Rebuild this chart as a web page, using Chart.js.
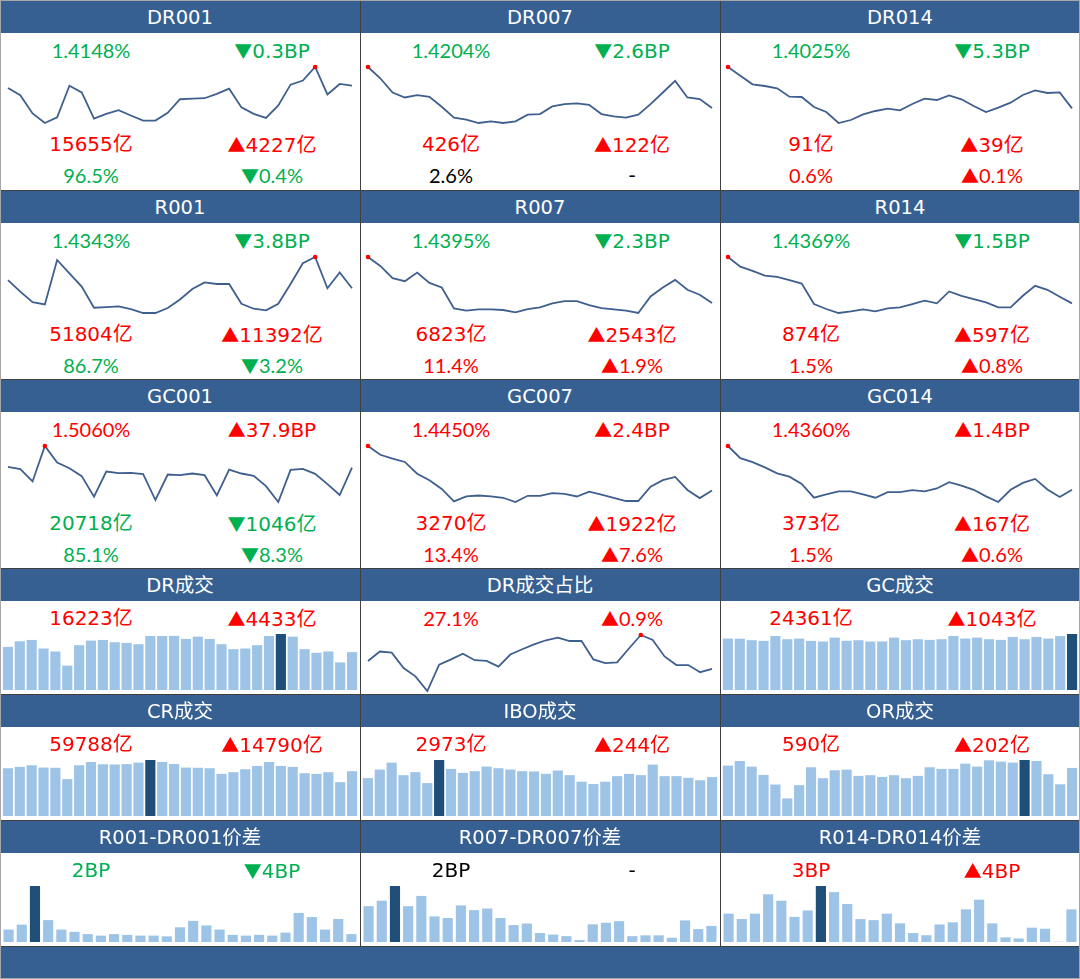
<!DOCTYPE html>
<html>
<head>
<meta charset="utf-8">
<script src="https://cdn.jsdelivr.net/npm/chart.js@4.4.0/dist/chart.umd.min.js"></script>
<style>
body { margin: 0; background: #fff; }
#board { position: relative; width: 1080px; height: 979px; overflow: hidden; background: #fff; }
.panel { position: absolute; width: 360px; }
.head { position: absolute; left: 0; top: 0; width: 360px; height: 33px; line-height: 35px; background: #376092; color: #fff;
        text-align: center; font-size: 19.5px; font-family: "DejaVu Sans", "Noto Sans CJK SC", sans-serif; }
.txt { position: absolute; width: 180px; height: 24px; line-height: 24px; text-align: center; white-space: nowrap; }
.tri { font-family: "Noto Sans CJK SC", sans-serif; font-size: 18px; }
.panel canvas { position: absolute; left: 0; top: 58px; }
.rule { position: absolute; background: #404040; }
#footer { position: absolute; left: 0; top: 946px; width: 1080px; height: 33px; background: #376092; }
#frame { position: absolute; left: 0; top: 0; width: 1080px; height: 979px; box-sizing: border-box; border: 1px solid #a6a6a6; }
</style>
</head>
<body>
<div id="board"><div id="footer"></div></div>
<script>
// 颜色
const G = '#00B050', R = '#FF0000', K = '#000000';
const LINE = '#3F5F8E', BAR = '#9DC3E6', BAR_HI = '#1F4E79';

// 横轴(交易日序号)
const days29 = [1,2,3,4,5,6,7,8,9,10,11,12,13,14,15,16,17,18,19,20,21,22,23,24,25,26,27,28,29];
const days30 = [1,2,3,4,5,6,7,8,9,10,11,12,13,14,15,16,17,18,19,20,21,22,23,24,25,26,27,28,29,30];
const days27 = [1,2,3,4,5,6,7,8,9,10,11,12,13,14,15,16,17,18,19,20,21,22,23,24,25,26,27];

// 利率走势(迷你图无坐标轴，数值为从图上读出的相对高度)
const dr001 = [133,112,58,30,47,140,120,43,57,68,52,37,37,60,100,102,103,116,131,76,57,45,82,143,155,195,114,145,140];
const dr007 = [197,163,120,105,112,107,77,44,38,28,33,28,33,53,55,78,85,87,83,55,48,44,53,85,120,155,105,100,73];
const dr014 = [197,171,145,140,133,108,107,77,62,29,38,55,65,72,67,86,102,98,112,100,80,62,75,90,113,127,119,121,73];
const r001 = [122,87,55,48,183,142,102,38,40,42,34,22,22,37,63,95,115,110,110,50,35,30,50,110,173,192,97,145,97];
const r007 = [192,165,128,119,145,114,100,37,30,34,34,32,25,35,40,52,59,59,47,38,34,30,23,73,100,123,93,78,53];
const r014 = [192,163,150,136,132,122,112,50,35,23,28,34,28,37,40,50,60,52,88,75,65,55,40,40,75,105,93,72,52];
const gc001 = [132,125,88,195,145,128,104,42,118,113,114,110,32,109,107,112,107,46,124,112,105,74,26,123,126,111,80,47,130];
const gc007 = [197,170,158,148,112,92,65,27,42,45,42,38,25,44,44,52,50,42,57,48,38,28,28,72,92,102,62,37,60];
const gc014 = [197,160,148,132,114,104,82,40,50,59,59,50,40,57,57,63,59,68,87,77,64,44,27,64,85,97,65,42,64];

// DR成交占比(%)
const drRatio = [29.2,31.7,31.4,27.3,25.1,21.2,28.2,29.6,31.1,29.4,29.2,27.7,30.9,32.3,33.6,34.7,35.4,34.5,34.5,29.6,28.6,28.8,32.5,36.1,34.8,30.4,28.1,28.1,26.2,27.1];

// 成交量(亿)
const drVol = [18499,20918,21487,17788,16507,10388,19211,21203,21487,20491,20207,19637,23195,23160,23230,21914,22910,21914,19637,17503,17788,19211,23195,24191,22910,17503,15938,16507,11790,16223];
const gcVol = [22230,22185,21518,21233,23370,21945,22230,21233,20948,22658,21260,21518,20948,20990,22658,21518,21945,21660,21945,23370,22230,22658,21945,21660,22943,21945,22943,22230,23318,24361];
const crVol = [63778,65549,67764,64663,64420,49162,67764,72193,69092,68850,69300,71307,75293,72193,69535,64663,64410,63778,56248,58463,62449,66878,72193,66878,65549,57134,56248,58463,44998,59788];
const iboVol = [2896,3556,4089,3124,3353,2515,4318,3607,3302,3429,3785,3658,3556,3429,3410,3226,3480,3124,2616,2438,2616,3048,3226,3124,3937,3048,3050,2921,2729,2973];
const orVol = [619,676,606,504,385,213,377,598,463,561,569,492,500,479,500,463,492,598,578,578,643,606,684,668,656,692,676,512,388,590];

// 价差(BP)
const spread001 = [3.2,4.5,14.8,5.7,3.2,2.6,2.0,1.6,2.0,1.8,1.6,1.6,1.4,3.8,5.5,4.3,3.2,1.8,1.6,1.8,1.6,2.4,7.6,6.5,3.2,6.0,2.0];
const spread007 = [4.5,5.2,7.1,4.5,5.8,3.2,3.0,4.6,4.0,4.2,3.0,2.1,2.3,1.1,0.9,0.7,0.2,2.2,2.4,2.6,0.7,0.8,0.8,0.5,2.7,1.6,2.0];
const spread014 = [2.6,2.1,2.6,4.4,3.8,2.3,2.9,5.2,4.6,3.5,2.1,2.0,2.6,1.7,0.8,0.6,1.6,1.8,3.0,3.9,1.7,0.4,0.3,1.3,1.2,-1.0,3.0];

const panels = [
    {col: 0, row: 0, title: 'DR001', kind: 'line', labels: days29, values: dr001,
     texts: [['1.4148%', G, '▼0.3BP', G], ['15655亿', R, '▲4227亿', R], ['96.5%', G, '▼0.4%', G]]},
    {col: 1, row: 0, title: 'DR007', kind: 'line', labels: days29, values: dr007,
     texts: [['1.4204%', G, '▼2.6BP', G], ['426亿', R, '▲122亿', R], ['2.6%', K, '-', K]]},
    {col: 2, row: 0, title: 'DR014', kind: 'line', labels: days29, values: dr014,
     texts: [['1.4025%', G, '▼5.3BP', G], ['91亿', R, '▲39亿', R], ['0.6%', R, '▲0.1%', R]]},
    {col: 0, row: 1, title: 'R001', kind: 'line', labels: days29, values: r001,
     texts: [['1.4343%', G, '▼3.8BP', G], ['51804亿', R, '▲11392亿', R], ['86.7%', G, '▼3.2%', G]]},
    {col: 1, row: 1, title: 'R007', kind: 'line', labels: days29, values: r007,
     texts: [['1.4395%', G, '▼2.3BP', G], ['6823亿', R, '▲2543亿', R], ['11.4%', R, '▲1.9%', R]]},
    {col: 2, row: 1, title: 'R014', kind: 'line', labels: days29, values: r014,
     texts: [['1.4369%', G, '▼1.5BP', G], ['874亿', R, '▲597亿', R], ['1.5%', R, '▲0.8%', R]]},
    {col: 0, row: 2, title: 'GC001', kind: 'line', labels: days29, values: gc001,
     texts: [['1.5060%', R, '▲37.9BP', R], ['20718亿', G, '▼1046亿', G], ['85.1%', G, '▼8.3%', G]]},
    {col: 1, row: 2, title: 'GC007', kind: 'line', labels: days29, values: gc007,
     texts: [['1.4450%', R, '▲2.4BP', R], ['3270亿', R, '▲1922亿', R], ['13.4%', R, '▲7.6%', R]]},
    {col: 2, row: 2, title: 'GC014', kind: 'line', labels: days29, values: gc014,
     texts: [['1.4360%', R, '▲1.4BP', R], ['373亿', R, '▲167亿', R], ['1.5%', R, '▲0.6%', R]]},
    {col: 0, row: 3, title: 'DR成交', kind: 'bar', labels: days30, values: drVol,
     texts: [['16223亿', R, '▲4433亿', R]]},
    {col: 1, row: 3, title: 'DR成交占比', kind: 'line', labels: days30, values: drRatio,
     texts: [['27.1%', R, '▲0.9%', R]]},
    {col: 2, row: 3, title: 'GC成交', kind: 'bar', labels: days30, values: gcVol,
     texts: [['24361亿', R, '▲1043亿', R]]},
    {col: 0, row: 4, title: 'CR成交', kind: 'bar', labels: days30, values: crVol,
     texts: [['59788亿', R, '▲14790亿', R]]},
    {col: 1, row: 4, title: 'IBO成交', kind: 'bar', labels: days30, values: iboVol,
     texts: [['2973亿', R, '▲244亿', R]]},
    {col: 2, row: 4, title: 'OR成交', kind: 'bar', labels: days30, values: orVol,
     texts: [['590亿', R, '▲202亿', R]]},
    {col: 0, row: 5, title: 'R001-DR001价差', kind: 'bar', labels: days27, values: spread001,
     texts: [['2BP', G, '▼4BP', G]]},
    {col: 1, row: 5, title: 'R007-DR007价差', kind: 'bar', labels: days27, values: spread007,
     texts: [['2BP', K, '-', K]]},
    {col: 2, row: 5, title: 'R014-DR014价差', kind: 'bar', labels: days27, values: spread014,
     texts: [['3BP', R, '▲4BP', R]]}
];

const rowTop = [0, 190, 379, 568, 694, 820];
const rowH = [190, 189, 189, 126, 126, 126];
const textY = [49.5, 144, 174.5];
const narrowFont = 'Lato, "DejaVu Sans", "Noto Sans CJK SC", sans-serif';
const wideFont = '"DejaVu Sans", "Noto Sans CJK SC", sans-serif';

const board = document.getElementById('board');

function addText(box, str, color, x, y) {
    const d = document.createElement('div');
    d.className = 'txt';
    d.style.color = color;
    d.style.left = x + 'px';
    d.style.top = (y - 12) + 'px';
    if (str.includes('%')) {
        d.style.fontFamily = narrowFont;
        d.style.fontSize = '20px';
    } else {
        d.style.fontFamily = wideFont;
        d.style.fontSize = '20px';
    }
    // 涨跌三角单独用较大的字形
    const first = str.charAt(0);
    if (first === '▲' || first === '▼') {
        const s = document.createElement('span');
        s.className = 'tri';
        s.textContent = first;
        d.appendChild(s);
        d.appendChild(document.createTextNode(str.slice(1)));
    } else {
        d.textContent = str;
    }
    box.appendChild(d);
}

function drawLine(canvas, p) {
    const top = Math.max(...p.values);
    const low = Math.min(...p.values);
    const peak = p.values.indexOf(top);
    new Chart(canvas, {
        type: 'line',
        data: {
            labels: p.labels,
            datasets: [{
                data: p.values,
                borderColor: LINE,
                borderWidth: 1.8,
                tension: 0,
                clip: false,
                pointRadius: p.values.map((v, i) => i === peak ? 2.3 : 0),
                pointBackgroundColor: R,
                pointBorderWidth: 0
            }]
        },
        options: {
            responsive: false,
            animation: false,
            events: [],
            layout: { padding: { left: 8, right: 8, top: 9, bottom: 7 } },
            plugins: { legend: { display: false }, tooltip: { enabled: false } },
            scales: {
                x: { display: false },
                y: { display: false, min: low, max: top }
            }
        }
    });
}

function drawBars(canvas, p) {
    const top = Math.max(...p.values);
    const peak = p.values.indexOf(top);
    new Chart(canvas, {
        type: 'bar',
        data: {
            labels: p.labels,
            datasets: [{
                data: p.values,
                backgroundColor: p.values.map((v, i) => i === peak ? BAR_HI : BAR),
                borderWidth: 0,
                barThickness: 9.5,
                clip: 0
            }]
        },
        options: {
            responsive: false,
            animation: false,
            events: [],
            layout: { padding: { left: 2, right: 2, top: 8, bottom: 8 } },
            plugins: { legend: { display: false }, tooltip: { enabled: false } },
            scales: {
                x: { display: false },
                y: { display: false, min: 0, max: top }
            }
        }
    });
}

panels.forEach(p => {
    const box = document.createElement('div');
    box.className = 'panel';
    box.style.left = (p.col * 360) + 'px';
    box.style.top = rowTop[p.row] + 'px';
    box.style.height = rowH[p.row] + 'px';

    const head = document.createElement('div');
    head.className = 'head';
    head.textContent = p.title;
    box.appendChild(head);

    p.texts.forEach((t, i) => {
        addText(box, t[0], t[1], 1, textY[i]);
        addText(box, t[2], t[3], 182, textY[i]);
    });

    const canvas = document.createElement('canvas');
    canvas.width = 360;
    canvas.height = 72;
    box.appendChild(canvas);
    board.appendChild(box);

    if (p.kind === 'line') drawLine(canvas, p);
    else drawBars(canvas, p);
});

// 表格线
[360, 720].forEach(x => {
    const v = document.createElement('div');
    v.className = 'rule';
    v.style.left = x + 'px'; v.style.top = '0px'; v.style.width = '1px'; v.style.height = '946px';
    board.appendChild(v);
});
[190, 379, 568, 694, 820, 946].forEach(y => {
    const h = document.createElement('div');
    h.className = 'rule';
    h.style.left = '0px'; h.style.top = y + 'px'; h.style.width = '1080px'; h.style.height = '1px';
    board.appendChild(h);
});
const frame = document.createElement('div');
frame.id = 'frame';
board.appendChild(frame);
</script>
</body>
</html>
